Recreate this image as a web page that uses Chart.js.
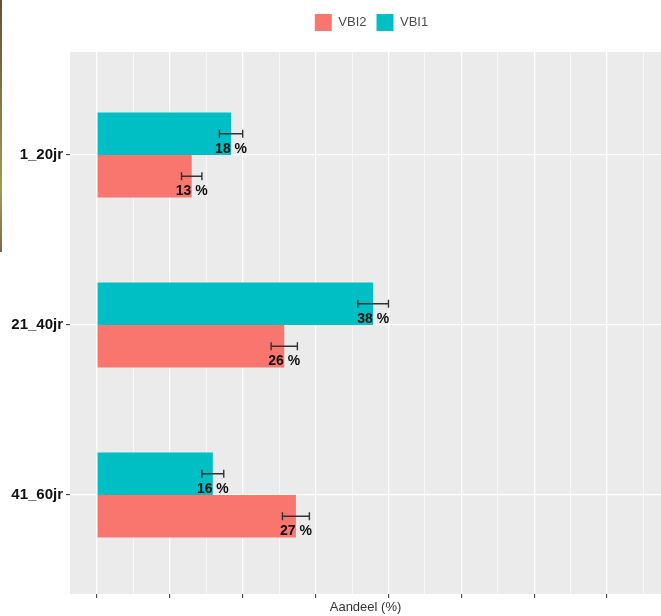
<!DOCTYPE html>
<html>
<head>
<meta charset="utf-8">
<script src="https://cdn.jsdelivr.net/npm/chart.js@4/dist/chart.umd.min.js"></script>
<style>
  html, body { margin: 0; padding: 0; background: #ffffff; }
  #wrap { position: relative; width: 661px; height: 616px; }
  #strip { position: absolute; left: 0; top: 0; width: 2px; height: 252px;
           background: linear-gradient(#6b4f35, #8a7448 40%, #a39a55 75%, #86664c); }
  canvas { position: absolute; left: 0; top: 0; }
</style>
</head>
<body>
<div id="wrap">
  <canvas id="c" width="661" height="616"></canvas>
  <div id="strip"></div>
</div>
<script>
// ---- data ----
const categories = ["1_20jr", "21_40jr", "41_60jr"];
const seriesNames = ["VBI1", "VBI2"];
const vbi1Values = [18.4, 37.9, 15.9];
const vbi2Values = [13.0, 25.7, 27.3];
const vbi1Errors = [1.6, 2.1, 1.5];
const vbi2Errors = [1.4, 1.8, 1.85];
const xMajorTicks = [0, 10, 20, 30, 40, 50, 60, 70];
const xMinorTicks = [5, 15, 25, 35, 45, 55, 65, 75];
const axisTitle = "Aandeel (%)";

const FONT = "'Liberation Sans', Arial, Helvetica, sans-serif";
const TEAL = "#00BFC4";
const SALMON = "#F8766D";

const errorsByDataset = [vbi1Errors, vbi2Errors];
const valuesByDataset = [vbi1Values, vbi2Values];

const panelPlugin = {
  id: 'panel',
  beforeDraw(chart) {
    const a = chart.chartArea, ctx = chart.ctx;
    ctx.save();
    ctx.fillStyle = '#EBEBEB';
    ctx.fillRect(a.left, a.top, a.right - a.left, a.bottom - a.top);
    ctx.restore();
  }
};

const legendPlacePlugin = {
  id: 'legendPlace',
  beforeLayout(chart) {
    const lg = chart.legend;
    if (lg && !lg._patched) {
      const f = lg.fit.bind(lg);
      lg.fit = function () { f(); this.height += 11; };
      lg._patched = true;
    }
  },
  afterLayout(chart) {
    const lg = chart.legend;
    if (lg) { lg.left += 41; lg.right += 41; }
  }
};

const errorPlugin = {
  id: 'errors',
  afterDatasetsDraw(chart) {
    const ctx = chart.ctx, xs = chart.scales.x;
    ctx.save();
    chart.data.datasets.forEach((ds, d) => {
      const meta = chart.getDatasetMeta(d);
      meta.data.forEach((el, i) => {
        const v = valuesByDataset[d][i], e = errorsByDataset[d][i];
        const x0 = xs.getPixelForValue(v - e), x1 = xs.getPixelForValue(v + e);
        const y = el.y;
        ctx.strokeStyle = '#333333';
        ctx.lineWidth = 1.4;
        ctx.beginPath();
        ctx.moveTo(x0, y); ctx.lineTo(x1, y);
        ctx.moveTo(x0, y - 4); ctx.lineTo(x0, y + 4);
        ctx.moveTo(x1, y - 4); ctx.lineTo(x1, y + 4);
        ctx.stroke();
        ctx.fillStyle = '#111111';
        ctx.font = 'bold 14px ' + FONT;
        ctx.textAlign = 'center';
        ctx.textBaseline = 'middle';
        ctx.fillText(Math.round(v) + ' %', xs.getPixelForValue(v), y + 15);
      });
    });
    ctx.restore();
  }
};

new Chart(document.getElementById('c'), {
  type: 'bar',
  data: {
    datasets: [
      { label: seriesNames[0], data: vbi1Values.map((v, i) => ({ x: v, y: i + 1 })),
        backgroundColor: TEAL, borderWidth: 0 },
      { label: seriesNames[1], data: vbi2Values.map((v, i) => ({ x: v, y: i + 1 })),
        backgroundColor: SALMON, borderWidth: 0 }
    ]
  },
  options: {
    indexAxis: 'y',
    responsive: false,
    animation: false,
    categoryPercentage: 0.5,
    barPercentage: 1.0,
    layout: { padding: { top: 4, left: 0, right: 0, bottom: 0 } },
    plugins: {
      legend: {
        position: 'top',
        reverse: true,
        labels: {
          boxWidth: 17, boxHeight: 17, padding: 10,
          color: '#4d4d4d',
          font: { family: FONT, size: 13 }
        }
      },
      tooltip: { enabled: false }
    },
    scales: {
      x: {
        type: 'linear',
        min: -3.7, max: 77.4,
        afterBuildTicks(scale) {
          scale.ticks = xMajorTicks.concat(xMinorTicks).sort((a, b) => a - b).map(v => ({ value: v }));
        },
        afterFit(scale) { scale.height = 22; },
        ticks: { display: false },
        border: { display: false },
        grid: {
          drawTicks: true, tickLength: 4,
          color: '#FFFFFF',
          lineWidth: c => (xMajorTicks.includes(c.tick.value) ? 1.3 : 0.6),
          tickColor: c => (xMajorTicks.includes(c.tick.value) ? '#333333' : 'rgba(0,0,0,0)'),
          tickWidth: 1
        },
        title: {
          display: true, text: axisTitle, color: '#333333',
          font: { family: FONT, size: 13 }, padding: { top: 0, bottom: 1 }
        }
      },
      y: {
        type: 'linear',
        reverse: true,
        offset: false,
        min: 0.394, max: 3.582,
        afterBuildTicks(scale) {
          scale.ticks = categories.map((c, i) => ({ value: i + 1 }));
        },
        afterFit(scale) { scale.width = 70; },
        ticks: {
          padding: 3,
          color: '#111111',
          font: { family: FONT, size: 15, weight: 'bold' },
          callback: v => categories[Math.round(v) - 1]
        },
        border: { display: false },
        grid: {
          offset: false,
          drawTicks: true, tickLength: 4,
          color: '#FFFFFF', lineWidth: 1.3,
          tickColor: '#333333', tickWidth: 1
        }
      }
    }
  },
  plugins: [panelPlugin, legendPlacePlugin, errorPlugin]
});
</script>
</body>
</html>
